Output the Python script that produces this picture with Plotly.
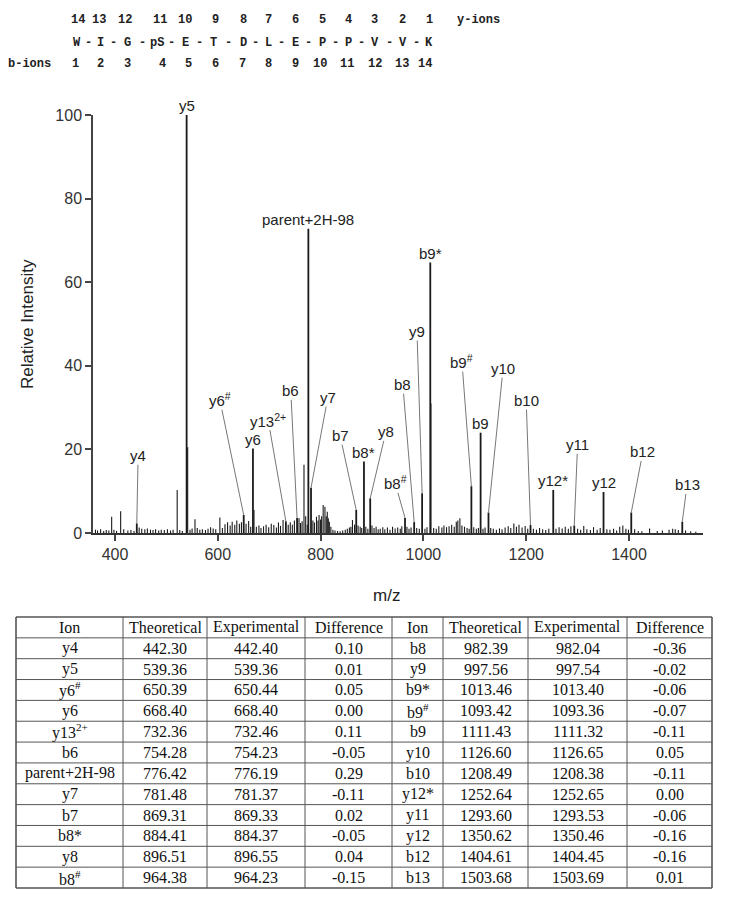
import plotly.graph_objects as go

# ---------------- data ----------------
# labelled peaks
ion_labels = ["y4", "y5", "y6<sup>#</sup>", "y6", "y13<sup>2+</sup>", "b6", "parent+2H-98", "y7",
              "b7", "b8*", "y8", "b8<sup>#</sup>", "b8", "y9", "b9*", "b9<sup>#</sup>", "b9", "y10",
              "b10", "y12*", "y11", "y12", "b12", "b13"]
ion_mz = [442.40, 539.36, 650.44, 668.40, 732.46, 754.23, 776.19, 781.37,
          869.33, 884.37, 896.55, 964.23, 982.04, 997.54, 1013.40, 1093.36, 1111.32, 1126.65,
          1208.38, 1252.65, 1293.53, 1350.46, 1404.45, 1503.69]
ion_int = [2.3, 100.0, 4.3, 20.2, 2.8, 3.6, 72.8, 10.8,
           5.5, 17.1, 8.3, 3.6, 2.6, 9.5, 64.7, 11.2, 24.0, 4.9,
           1.9, 10.3, 1.8, 9.8, 4.9, 2.7]

# unlabelled peaks
other_mz = [362, 366, 372, 378, 383, 388, 393.5, 398, 403, 411, 417, 425, 431, 437, 447, 452, 458, 463,
            469, 474, 479, 485, 490, 496, 502, 508, 513, 521, 526, 531, 541.4, 546, 550, 555.6, 560, 565,
            570, 576, 581, 586, 591, 596, 604, 609, 614, 619, 624, 628, 633, 637, 642, 646, 655, 660, 664,
            670.4, 675, 680, 684, 689, 694, 699, 704, 709, 714, 718, 722, 727, 737, 741, 745, 749, 758, 761,
            764, 767.7, 771, 774, 785, 788, 792, 795, 797, 800, 802, 805, 808.5, 811, 813, 815, 817, 820, 824,
            828, 833, 838, 843, 848, 852, 856, 859, 862, 866, 873, 877, 880, 888, 892, 900, 904, 908, 912,
            916, 921, 925, 930, 935, 940, 945, 950, 955, 958, 968, 972, 976, 987, 992, 1003, 1007, 1014.6,
            1020, 1025, 1030, 1036, 1040, 1045, 1050, 1055, 1060, 1064, 1067, 1071, 1075, 1080, 1085, 1089,
            1098, 1103, 1107, 1116, 1120, 1131, 1136, 1142, 1148, 1153, 1159, 1165, 1170, 1176, 1181, 1186,
            1192, 1198, 1203, 1214, 1220, 1226, 1232, 1238, 1244, 1258, 1264, 1270, 1276, 1282, 1287, 1300,
            1306, 1312, 1318, 1325, 1331, 1338, 1344, 1357, 1363, 1370, 1376, 1382, 1388, 1394, 1399, 1411,
            1418, 1425, 1440, 1455, 1465, 1478, 1485, 1490, 1496, 1510, 1520, 1530]
other_int = [0.8, 0.6, 0.9, 0.5, 0.7, 0.6, 3.9, 0.8, 0.5, 5.2, 0.9, 0.6, 0.7, 0.5, 1.3, 1.0, 0.9, 1.1,
             0.8, 0.7, 0.9, 0.6, 0.8, 0.7, 0.9, 0.6, 0.8, 10.3, 0.7, 0.5, 20.5, 0.8, 1.1, 3.3, 1.2, 0.8,
             0.9, 0.7, 1.0, 1.4, 1.1, 0.9, 3.7, 1.2, 2.1, 2.6, 1.8, 2.7, 2.0, 3.0, 2.2, 2.6, 2.2, 2.9, 1.5,
             5.5, 1.5, 1.8, 1.2, 1.6, 2.0, 1.4, 2.2, 1.9, 1.3, 2.5, 1.7, 3.1, 2.0, 2.6, 2.0, 3.0, 3.5, 2.4,
             2.8, 16.3, 4.0, 2.0, 3.0, 2.5, 3.9, 3.0, 4.3, 3.2, 4.0, 6.7, 6.3, 4.0, 5.1, 3.5, 2.7, 1.5, 0.8,
             0.6, 0.5, 0.4, 0.6, 0.8, 1.0, 1.3, 1.5, 3.1, 2.0, 1.8, 1.5, 1.2, 1.5, 1.0, 1.8, 1.2, 1.5, 0.9,
             1.0, 1.4, 0.9, 1.3, 0.8, 1.5, 1.1, 1.3, 1.0, 1.6, 1.5, 1.0, 1.3, 1.2, 1.0, 1.0, 1.4, 31.0,
             1.2, 1.0, 1.6, 1.3, 1.8, 1.4, 1.6, 2.0, 1.5, 2.7, 3.0, 3.5, 1.8, 1.5, 1.2, 1.0,
             1.4, 1.0, 1.2, 1.0, 1.3, 1.2, 1.0, 0.8, 1.1, 0.9, 1.3, 1.6, 1.2, 2.3, 1.5, 2.0,
             1.3, 1.7, 1.0, 1.0, 0.8, 1.2, 0.9, 0.7, 1.0, 1.0, 1.4, 1.1, 1.5, 1.0, 1.6, 1.0,
             0.8, 1.7, 0.9, 0.7, 1.4, 0.8, 1.2, 0.9, 0.8, 1.0, 0.6, 1.5, 1.8, 1.0, 0.8, 0.9,
             0.5, 0.4, 1.1, 0.5, 0.6, 0.8, 1.0, 0.9, 0.7, 0.6, 0.4, 0.3]

# label text positions (data coords of text centre); None -> text sits right above the peak
label_mz = [445, None, 604, None, 698, 742, None, 814,
            838, None, 927, 945, 960, 987.5, None, 1075, None, 1155,
            1200, None, 1300, None, 1427, 1513]
label_int = [18.5, None, 31.9, None, 27.0, 34.0, None, 32.4,
             23.3, None, 24.2, 12.0, 35.5, 48.2, None, 41.0, None, 39.3,
             31.7, None, 21.1, None, 19.4, 11.5]

# sequence header
y_ion_numbers = ["14", "13", "12", "11", "10", "9", "8", "7", "6", "5", "4", "3", "2", "1"]
b_ion_numbers = ["1", "2", "3", "4", "5", "6", "7", "8", "9", "10", "11", "12", "13", "14"]
residues = ["W", "I", "G", "pS", "E", "T", "D", "L", "E", "P", "P", "V", "V", "K"]

# table
tbl_header = ["Ion", "Theoretical", "Experimental", "Difference",
              "Ion", "Theoretical", "Experimental", "Difference"]
t_ion1 = ["y4", "y5", "y6<sup>#</sup>", "y6", "y13<sup>2+</sup>", "b6", "parent+2H-98", "y7",
          "b7", "b8*", "y8", "b8<sup>#</sup>"]
t_theo1 = ["442.30", "539.36", "650.39", "668.40", "732.36", "754.28", "776.42", "781.48",
           "869.31", "884.41", "896.51", "964.38"]
t_exp1 = ["442.40", "539.36", "650.44", "668.40", "732.46", "754.23", "776.19", "781.37",
          "869.33", "884.37", "896.55", "964.23"]
t_diff1 = ["0.10", "0.01", "0.05", "0.00", "0.11", "-0.05", "0.29", "-0.11",
           "0.02", "-0.05", "0.04", "-0.15"]
t_ion2 = ["b8", "y9", "b9*", "b9<sup>#</sup>", "b9", "y10", "b10", "y12*", "y11", "y12", "b12", "b13"]
t_theo2 = ["982.39", "997.56", "1013.46", "1093.42", "1111.43", "1126.60", "1208.49", "1252.64",
           "1293.60", "1350.62", "1404.61", "1503.68"]
t_exp2 = ["982.04", "997.54", "1013.40", "1093.36", "1111.32", "1126.65", "1208.38", "1252.65",
          "1293.53", "1350.46", "1404.45", "1503.69"]
t_diff2 = ["-0.36", "-0.02", "-0.06", "-0.07", "-0.11", "0.05", "-0.11", "0.00",
           "-0.06", "-0.16", "-0.16", "0.01"]

# ---------------- layout geometry ----------------
# the page body has an 8px margin: figure pixel = page pixel - 8
OFF = 8
W, H = 713, 888
def px(x):
    return (x - OFF) / W
def py(y):
    return 1 - (y - OFF) / H

fig = go.Figure()

def sticks(mzs, ints):
    xs, ys = [], []
    for m, v in zip(mzs, ints):
        xs += [m, m, None]
        ys += [0, v, None]
    return xs, ys

xo, yo = sticks(other_mz, other_int)
fig.add_trace(go.Scatter(x=xo, y=yo, mode="lines", line=dict(color="#1a1a1a", width=1.1),
                         hoverinfo="skip", showlegend=False))
xi, yi = sticks(ion_mz, ion_int)
fig.add_trace(go.Scatter(x=xi, y=yi, mode="lines", line=dict(color="#1a1a1a", width=1.8),
                         hoverinfo="skip", showlegend=False))

lab_font = dict(family="Liberation Sans, Arial, sans-serif", size=15, color="#222")
annotations = []
for t, m, v, lm, lv in zip(ion_labels, ion_mz, ion_int, label_mz, label_int):
    if lm is None:
        annotations.append(dict(x=m, y=v, xref="x", yref="y", text=t, showarrow=False,
                                yanchor="bottom", xanchor="center", yshift=0, font=lab_font,
                                borderpad=0))
    else:
        annotations.append(dict(x=m, y=v, xref="x", yref="y", ax=lm, ay=lv, axref="x", ayref="y",
                                text=t, showarrow=True, arrowhead=0, arrowwidth=1,
                                arrowcolor="#777", standoff=0, startstandoff=0, font=lab_font,
                                borderpad=0))

# sequence header
mono = dict(family="Liberation Mono, Courier New, monospace", size=12, color="#222")
y_num_x = [78, 99, 125, 160, 185, 215, 243, 268, 295, 322, 348, 375, 403, 429]
res_x = [77, 100, 127, 157, 185, 213, 243, 268, 295, 322, 348, 375, 403, 429]
b_num_x = [75, 100, 127, 162, 188, 215, 242, 268, 295, 320, 347, 375, 402, 425]
for t, x in zip(y_ion_numbers, y_num_x):
    annotations.append(dict(x=px(x), y=py(20), xref="paper", yref="paper", text="<b>%s</b>" % t,
                            showarrow=False, font=mono, xanchor="center", yanchor="middle"))
annotations.append(dict(x=px(479), y=py(20), xref="paper", yref="paper", text="<b>y-ions</b>",
                        showarrow=False, font=mono, xanchor="center", yanchor="middle"))
for i, (t, x) in enumerate(zip(residues, res_x)):
    annotations.append(dict(x=px(x), y=py(43), xref="paper", yref="paper", text="<b>%s</b>" % t,
                            showarrow=False, font=mono, xanchor="center", yanchor="middle"))
    if i < len(residues) - 1:
        mid = (x + res_x[i + 1]) / 2
        annotations.append(dict(x=px(mid), y=py(43), xref="paper", yref="paper", text="<b>-</b>",
                                showarrow=False, font=mono, xanchor="center", yanchor="middle"))
for t, x in zip(b_ion_numbers, b_num_x):
    annotations.append(dict(x=px(x), y=py(64), xref="paper", yref="paper", text="<b>%s</b>" % t,
                            showarrow=False, font=mono, xanchor="center", yanchor="middle"))
annotations.append(dict(x=px(29), y=py(64), xref="paper", yref="paper", text="<b>b-ions</b>",
                        showarrow=False, font=mono, xanchor="center", yanchor="middle"))

# axis titles
ax_font = dict(family="Liberation Sans, Arial, sans-serif", size=17, color="#222")
annotations.append(dict(x=px(28), y=py(324), xref="paper", yref="paper", text="Relative Intensity",
                        textangle=-90, showarrow=False, font=ax_font, xanchor="center", yanchor="middle"))
annotations.append(dict(x=px(386), y=py(595), xref="paper", yref="paper", text="m/z",
                        showarrow=False, font=ax_font, xanchor="center", yanchor="middle"))

# table (drawn with shapes + text)
col_edges = [16, 123, 207, 305, 392, 443, 528, 627, 712]
tbl_top, tbl_bot = 617, 888
n_rows = 1 + len(t_ion1)
row_h = (tbl_bot - tbl_top) / n_rows
columns = [t_ion1, t_theo1, t_exp1, t_diff1, t_ion2, t_theo2, t_exp2, t_diff2]
serif = dict(family="Liberation Serif, Times New Roman, serif", size=16, color="#111")
shapes = []
line_col = "#555"
for i in range(n_rows + 1):
    yy = tbl_top + i * row_h
    w = 1.6 if i in (0, n_rows) else 1
    shapes.append(dict(type="line", xref="paper", yref="paper", x0=px(col_edges[0]), x1=px(col_edges[-1]),
                       y0=py(yy), y1=py(yy), line=dict(color=line_col, width=w)))
for j, xx in enumerate(col_edges):
    w = 1.6 if j in (0, len(col_edges) - 1) else 1
    shapes.append(dict(type="line", xref="paper", yref="paper", x0=px(xx), x1=px(xx),
                       y0=py(tbl_top), y1=py(tbl_bot), line=dict(color=line_col, width=w)))
for j in range(8):
    cx = (col_edges[j] + col_edges[j + 1]) / 2
    cells = [tbl_header[j]] + columns[j]
    for i, t in enumerate(cells):
        cy = tbl_top + (i + 0.5) * row_h
        annotations.append(dict(x=px(cx), y=py(cy), xref="paper", yref="paper", text=t,
                                showarrow=False, font=serif, xanchor="center", yanchor="middle"))

tick_font = dict(family="Liberation Sans, Arial, sans-serif", size=16, color="#333")
fig.update_layout(
    width=W, height=H,
    margin=dict(l=0, r=0, t=0, b=0),
    paper_bgcolor="white", plot_bgcolor="white",
    showlegend=False,
    annotations=annotations,
    shapes=shapes,
    xaxis=dict(domain=[px(93), px(703)], range=[357.2, 1544], tickvals=[400, 600, 800, 1000, 1200, 1400],
               ticks="outside", ticklen=6, tickwidth=1.5, tickcolor="#444", showline=True,
               linecolor="#333", linewidth=1.5, showgrid=False, zeroline=False, tickfont=tick_font,
               automargin=False, fixedrange=True),
    yaxis=dict(domain=[py(533), py(115)], range=[0, 100], tickvals=[0, 20, 40, 60, 80, 100],
               ticks="outside", ticklen=6, tickwidth=1.5, tickcolor="#444", showline=True,
               linecolor="#444", linewidth=1.5, showgrid=False, zeroline=False, tickfont=tick_font,
               automargin=False, fixedrange=True),
)

fig.write_html("out.html")
